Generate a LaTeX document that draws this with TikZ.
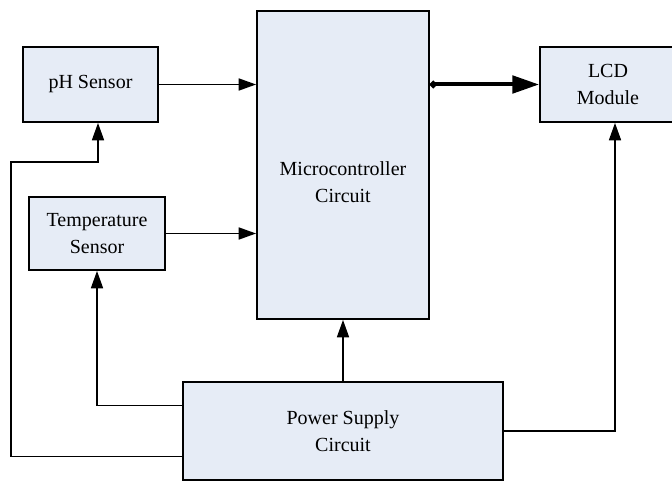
\documentclass[tikz,border=0pt]{standalone}
\usepackage{fontspec}
\setmainfont{Liberation Serif}
\usepackage{tikz}
\usetikzlibrary{calc,arrows.meta,positioning}
\definecolor{boxfill}{RGB}{230,236,246}
\tikzset{
	block/.style={
		draw, rectangle, line width=1.4pt, fill=boxfill,
		align=center, inner sep=2pt, text=black,
		font=\fontsize{15}{20}\selectfont
	},
	link/.style={line width=1.2pt, -{Triangle[length=13pt,width=9pt]}},
	bus_arrow/.style={line width=3pt, {Circle[length=5pt]}-{Triangle[length=20pt,width=13pt]}}
}

\begin{document}
\begin{tikzpicture}[x=0.75pt,y=-0.75pt]
				\useasboundingbox (0,0) rectangle (672,481);
				\node[block, minimum width=129pt, minimum height=231pt,
					label={[align=center, font=\fontsize{15}{20}\selectfont, yshift=-13pt]center:Microcontroller\\Circuit}] (micro) at (343,165) {};
				\node[block, minimum width=101.25pt, minimum height=56.25pt] (ph) at (90.5,84.5) {pH Sensor};
				\node[block, minimum width=102pt, minimum height=54.75pt] (temp) at (97,233.5) {Temperature\\Sensor};
				\node[block, minimum width=102pt, minimum height=56.25pt] (lcd) at (608,84.5) {LCD\\Module};
				\node[block, minimum width=240pt, minimum height=73.5pt] (power) at (343,431) {Power Supply\\Circuit};
				\coordinate (phin) at ($(ph.south)+(7.5,0)$);
				\coordinate (lcdin) at ($(lcd.south)+(7,0)$);
				\coordinate (corner) at (11,162);
				\coordinate (pwtemp) at ($(power.north west)!0.245!(power.south west)$);
				\coordinate (pwph) at ($(power.north west)!0.755!(power.south west)$);
				\draw[link] (ph.east) -- (ph.east -| micro.west);
				\draw[link] (temp.east) -- (temp.east -| micro.west);
				\draw[bus_arrow] (micro.east |- lcd.west) -- (lcd.west);
				\draw[link] (power.north) -- (micro.south);
				\draw[link] (pwtemp) -| (temp.south);
				\draw[link] (pwph) -| (corner) -| (phin);
				\draw[link] (power.east) -| (lcdin);
			\end{tikzpicture}
\end{document}
